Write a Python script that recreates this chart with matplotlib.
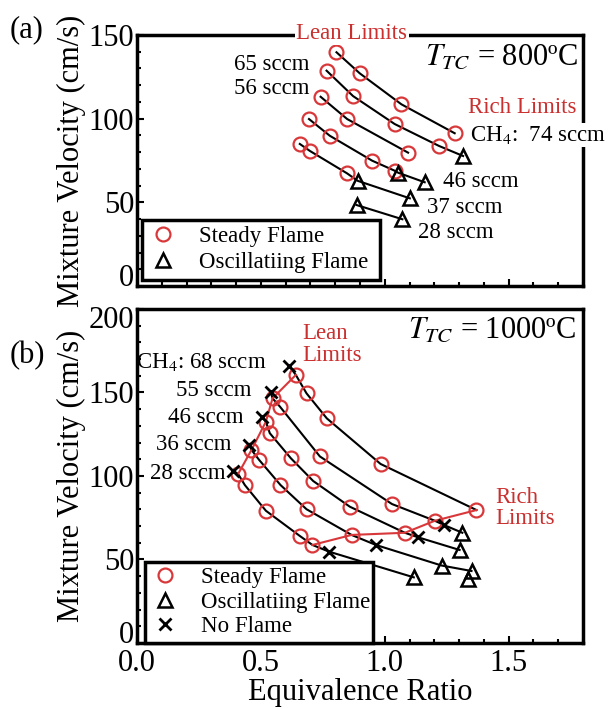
import matplotlib
matplotlib.use("Agg")
import matplotlib.pyplot as plt
import matplotlib.transforms as mtrans
from matplotlib.lines import Line2D
from matplotlib.ticker import MultipleLocator

plt.rcParams['font.family'] = ['Liberation Serif', 'DejaVu Serif']
plt.rcParams['mathtext.fontset'] = 'stix'

RED = '#d8383a'
RED_TXT = '#c9302f'

# ---- (a) T_TC = 800 C ----
flows_800 = ['74', '65', '56', '46', '37', '28']
steady_phi_800 = [
    [0.805, 0.899, 1.067, 1.282],
    [0.765, 0.872, 1.040, 1.219],
    [0.741, 0.848, 1.094],
    [0.694, 0.778, 0.949, 1.040],
    [0.657, 0.698, 0.848],
    [],
]
steady_vel_800 = [
    [139.7, 127.1, 108.6, 91.3],
    [128.7, 113.5, 96.8, 83.7],
    [113.1, 99.8, 79.7],
    [99.8, 89.8, 74.9, 68.9],
    [84.9, 80.7, 67.3],
    [],
]
osc_phi_800 = [[], [1.316], [], [1.054, 1.161], [0.890, 1.101], [0.886, 1.071]]
osc_vel_800 = [[], [77.7], [], [67.7, 62.0], [62.9, 52.4], [48.4, 39.9]]

# ---- (b) T_TC = 1000 C ----
flows_1000 = ['68', '55', '46', '36', '28']
steady_phi_1000 = [
    [0.641, 0.684, 0.766, 0.983, 1.370],
    [0.547, 0.577, 0.738, 1.029, 1.202],
    [0.520, 0.536, 0.621, 0.711, 0.859, 1.081],
    [0.462, 0.493, 0.579, 0.684, 0.866],
    [0.408, 0.435, 0.520, 0.657, 0.708],
]
steady_vel_1000 = [
    [160.5, 149.5, 134.5, 107.2, 79.6],
    [146.5, 141.5, 111.7, 83.2, 73.2],
    [132.5, 125.6, 110.6, 97.0, 81.6, 66.0],
    [115.6, 109.6, 94.6, 80.1, 64.7],
    [101.2, 94.6, 79.2, 64.1, 58.7],
]
noflame_phi_1000 = [[0.614], [0.539, 1.238], [0.503, 1.134], [0.453, 0.964], [0.388, 0.775]]
noflame_vel_1000 = [[165.9], [150.5, 70.7], [135.5, 63.3], [118.6, 58.7], [103.2, 54.7]]
osc_phi_1000 = [[], [1.313], [1.302], [1.229, 1.350], [1.117]]
osc_vel_1000 = [[], [66.0], [55.7], [46.4, 43.1], [39.3]]
osc_extra_phi = [1.336]
osc_extra_vel = [38.3]


def draw_curve(ax, phis, vels):
    pts = sorted(zip(phis, vels))
    if len(pts) > 1:
        ax.plot([p[0] for p in pts], [p[1] for p in pts], color='black', lw=1.5, zorder=2)


def style_axes(ax, ymax):
    ax.set_xlim(0, 1.8)
    ax.set_ylim(0, ymax)
    ax.xaxis.set_major_locator(MultipleLocator(0.5))
    ax.xaxis.set_minor_locator(MultipleLocator(0.1))
    ax.yaxis.set_major_locator(MultipleLocator(50))
    ax.yaxis.set_minor_locator(MultipleLocator(10))
    ax.tick_params(which='both', direction='in', top=False, right=False, width=1.5)
    ax.tick_params(which='major', length=5, labelsize=22, pad=2)
    ax.tick_params(which='minor', length=3)
    ax.tick_params(axis='x', which='major', pad=4)
    for s in ax.spines.values():
        s.set_linewidth(2.5)
    ax.set_ylabel('Mixture Velocity (cm/s)', fontsize=22, labelpad=2)


mk_circle = dict(marker='o', ms=10, mfc='none', mec=RED, mew=1.6, ls='none', zorder=4)
mk_tri = dict(marker='^', ms=10, mfc='none', mec='black', mew=1.8, ls='none', zorder=4)
mk_x = dict(marker='x', ms=9, mec='black', mew=2, ls='none', zorder=4)

fig = plt.figure(figsize=(6.15, 7.09), dpi=100)
ax1 = fig.add_axes([0.2228, 0.5966, 0.7252, 0.354])
ax2 = fig.add_axes([0.2228, 0.0931, 0.7252, 0.4711])

# panel (a)
for i in range(len(flows_800)):
    draw_curve(ax1, steady_phi_800[i] + osc_phi_800[i], steady_vel_800[i] + osc_vel_800[i])
    ax1.plot(steady_phi_800[i], steady_vel_800[i], **mk_circle)
    ax1.plot(osc_phi_800[i], osc_vel_800[i], **mk_tri)
style_axes(ax1, 150)
ax1.tick_params(labelbottom=False)

lbl = dict(fontsize=16.5, va='center')
white = dict(facecolor='white', edgecolor='none', pad=1)
ax1.text(0.867, 151.2, 'Lean Limits', color=RED_TXT, ha='center', bbox=white, clip_on=False, zorder=6, **lbl)
ax1.text(1.161, 136.9, '$T_{TC}$ = 800ºC', fontsize=22, va='center', ha='left')
ax1.text(0.698, 132.1, f'{flows_800[1]} sccm', ha='right', **lbl)
ax1.text(0.698, 118.3, f'{flows_800[2]} sccm', ha='right', **lbl)
ax1.text(1.774, 106.4, 'Rich Limits', color=RED_TXT, ha='right', **lbl)
ax1.text(1.343, 90.2, f'CH$_4$:  {flows_800[0]} sccm', ha='left', bbox=white, clip_on=False, zorder=6, **lbl)
ax1.text(1.234, 62.2, f'{flows_800[3]} sccm', ha='left', **lbl)
ax1.text(1.169, 47.2, f'{flows_800[4]} sccm', ha='left', **lbl)
ax1.text(1.133, 31.7, f'{flows_800[5]} sccm', ha='left', **lbl)

h1 = [Line2D([], [], **mk_circle), Line2D([], [], **mk_tri)]
leg1 = ax1.legend(h1, ['Steady Flame', 'Oscillatiing Flame'], loc='lower left',
                  bbox_to_anchor=(0.011, 0.024, 0.534, 0.25), mode='expand', borderaxespad=0,
                  fancybox=False, edgecolor='black', framealpha=1, fontsize=16.5,
                  handlelength=1.2, handletextpad=1.0, labelspacing=0.2, borderpad=0.3)
leg1.get_frame().set_linewidth(2.5)

# panel (b)
for i in range(len(flows_1000)):
    draw_curve(ax2, steady_phi_1000[i] + noflame_phi_1000[i] + osc_phi_1000[i],
               steady_vel_1000[i] + noflame_vel_1000[i] + osc_vel_1000[i])
    ax2.plot(steady_phi_1000[i], steady_vel_1000[i], **mk_circle)
    ax2.plot(noflame_phi_1000[i], noflame_vel_1000[i], **mk_x)
    ax2.plot(osc_phi_1000[i], osc_vel_1000[i], **mk_tri)
ax2.plot(osc_extra_phi, osc_extra_vel, **mk_tri)

lean_phi = [s[0] for s in steady_phi_1000]
lean_vel = [s[0] for s in steady_vel_1000]
rich_phi = [s[-1] for s in steady_phi_1000]
rich_vel = [s[-1] for s in steady_vel_1000]
ax2.plot(lean_phi, lean_vel, color=RED, lw=1.5, zorder=3)
ax2.plot(rich_phi, rich_vel, color=RED, lw=1.5, zorder=3)

style_axes(ax2, 200)
ax2.xaxis.set_major_formatter(plt.FormatStrFormatter('%.1f'))
ax2.set_xlabel('Equivalence Ratio', fontsize=22, labelpad=0)

ax2.text(0.669, 178.7, 'Lean\nLimits', color=RED_TXT, ha='left', linespacing=1.05, **lbl)
ax2.text(1.093, 187.4, '$T_{TC}$ = 1000ºC', fontsize=22, va='center', ha='left')
ax2.text(0.524, 168.3, f'CH$_4$: {flows_1000[0]} sccm', ha='right', **lbl)
ax2.text(0.464, 150.9, f'{flows_1000[1]} sccm', ha='right', **lbl)
ax2.text(0.431, 135.3, f'{flows_1000[2]} sccm', ha='right', **lbl)
ax2.text(0.383, 118.6, f'{flows_1000[3]} sccm', ha='right', **lbl)
ax2.text(0.359, 101.2, f'{flows_1000[4]} sccm', ha='right', **lbl)
ax2.text(1.444, 80.8, 'Rich\nLimits', color=RED_TXT, ha='left', linespacing=1.05, **lbl)

h2 = [Line2D([], [], **mk_circle), Line2D([], [], **mk_tri), Line2D([], [], **mk_x)]
leg2 = ax2.legend(h2, ['Steady Flame', 'Oscillatiing Flame', 'No Flame'], loc='lower left',
                  bbox_to_anchor=(0.018, 0.0, 0.511, 0.25), mode='expand', borderaxespad=0,
                  fancybox=False, edgecolor='black', framealpha=1, fontsize=16.5,
                  handlelength=1.2, handletextpad=1.0, labelspacing=0.15, borderpad=0.25)
leg2.get_frame().set_linewidth(2.5)

fig.text(0.044, 0.958, '(a)', fontsize=22, ha='center', va='center')
fig.text(0.044, 0.499, '(b)', fontsize=22, ha='center', va='center')

# nudge the end tick labels inward so the two panels' labels don't collide
fig.canvas.draw()
for ax, top in [(ax1, None), (ax2, 200)]:
    for tick in ax.yaxis.get_major_ticks():
        loc = tick.get_loc()
        if loc == 0:
            dy = 0.11
        elif top is not None and loc == top:
            dy = -0.08
        else:
            continue
        tick.label1.set_transform(tick.label1.get_transform() +
                                  mtrans.ScaledTranslation(0, dy, fig.dpi_scale_trans))

fig.savefig('out.png', dpi=100)
